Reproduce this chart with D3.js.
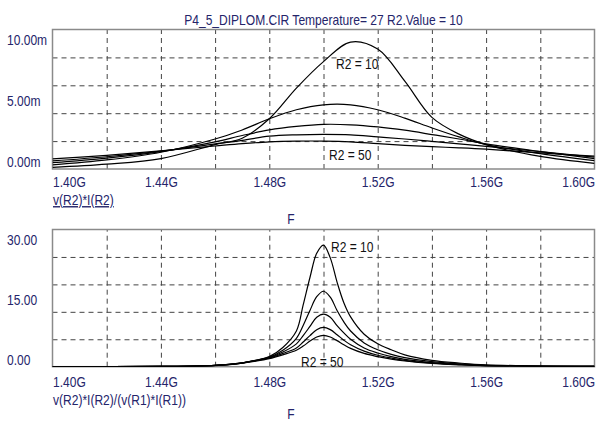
<!DOCTYPE html>
<html>
<head>
<meta charset="utf-8">
<script src="https://cdn.jsdelivr.net/npm/d3@7"></script>
<style>
  body { margin: 0; background: #fff; }
  svg text { font-family: 'Liberation Sans', Arial, sans-serif; }
</style>
</head>
<body>
<div id="chart"></div>
<script>
// frequency axis (GHz)
const xTicks = [1.40, 1.44, 1.48, 1.52, 1.56, 1.60]
const xGrid = [1.42, 1.44, 1.46, 1.48, 1.50, 1.52, 1.54, 1.56, 1.58]

// top plot: v(R2)*I(R2), values in m (1e-3)
const freqTop = [1.40, 1.42, 1.44, 1.46, 1.47, 1.48, 1.49, 1.50, 1.51, 1.52, 1.53, 1.54, 1.55, 1.56, 1.58, 1.60]
const topR10 = [0.12, 0.35, 0.75, 1.75, 2.2, 3.6, 5.8, 7.7, 9.1, 8.6, 6.3, 3.7, 2.5, 1.75, 0.9, 0.4]
const topR20 = [0.30, 0.65, 1.20, 2.15, 2.8, 3.6, 4.25, 4.6, 4.6, 4.25, 3.65, 2.95, 2.3, 1.75, 1.1, 0.6]
const topR30 = [0.45, 0.78, 1.25, 1.95, 2.4, 2.8, 3.05, 3.2, 3.17, 3.02, 2.78, 2.47, 2.15, 1.8, 1.25, 0.75]
const topR40 = [0.58, 0.88, 1.28, 1.8, 2.05, 2.35, 2.45, 2.48, 2.45, 2.3, 2.15, 1.98, 1.8, 1.62, 1.25, 0.85]
const topR50 = [0.72, 0.98, 1.30, 1.65, 1.82, 1.95, 2.0, 2.0, 1.95, 1.82, 1.7, 1.6, 1.52, 1.42, 1.15, 0.92]
const topTicks = [0, 5, 10]

// bottom plot: v(R2)*I(R2)/(v(R1)*I(R1))
const freqBot = [1.40, 1.44, 1.46, 1.47, 1.475, 1.48, 1.485, 1.49, 1.4925, 1.495, 1.4975, 1.50, 1.5025, 1.505, 1.5075, 1.51, 1.515, 1.52, 1.525, 1.53, 1.54, 1.55, 1.56, 1.60]
const botR10 = [0, 0.05, 0.25, 0.8, 1.4, 2.2, 4.2, 7.8, 13.5, 19.5, 24.8, 26.6, 23.8, 18.5, 14.0, 10.9, 7.1, 5.0, 3.7, 2.6, 1.4, 0.8, 0.4, 0.05]
const botR20 = [0, 0.05, 0.3, 0.85, 1.4, 2.1, 3.6, 6.2, 9.0, 12.3, 15.3, 16.5, 15.2, 12.3, 9.8, 7.8, 5.2, 3.7, 2.7, 2.0, 1.1, 0.6, 0.3, 0.05]
const botR30 = [0, 0.05, 0.3, 0.85, 1.35, 2.0, 3.2, 5.0, 6.8, 8.8, 10.8, 11.5, 10.8, 9.0, 7.4, 6.0, 4.1, 3.0, 2.2, 1.6, 0.9, 0.5, 0.25, 0.05]
const botR40 = [0, 0.05, 0.3, 0.8, 1.3, 1.9, 2.9, 4.1, 5.4, 6.8, 8.1, 8.6, 8.1, 7.0, 5.8, 4.8, 3.4, 2.5, 1.9, 1.4, 0.8, 0.45, 0.22, 0.05]
const botR50 = [0, 0.05, 0.3, 0.8, 1.2, 1.75, 2.6, 3.6, 4.5, 5.6, 6.5, 6.85, 6.5, 5.7, 4.8, 4.0, 2.9, 2.2, 1.65, 1.25, 0.7, 0.4, 0.2, 0.05]
const botTicks = [0, 15, 30]

const ink = '#24246a'
const fontSize = 14
const squeeze = 0.86

// the original font is a narrow one, so squeeze each text around its anchor
function narrow(sel) {
  sel.attr('transform', function() {
    const x = +this.getAttribute('x') || 0
    return 'translate(' + x + ',0) scale(' + squeeze + ',1) translate(' + -x + ',0)'
  })
}

const svg = d3
  .select('#chart')
  .append('svg')
  .attr('width', 596)
  .attr('height', 421)

const xPositionScale = d3.scaleLinear().domain([1.40, 1.60]).range([52.5, 594.5])

svg
  .append('text')
  .attr('x', 323.5)
  .attr('y', 25)
  .attr('text-anchor', 'middle')
  .attr('font-size', fontSize)
  .attr('fill', ink)
  .text('P4_5_DIPLOM.CIR Temperature= 27 R2.Value = 10')
  .call(narrow)

const panels = [
  {
    top: 29.5,
    bottom: 169,
    domain: [0, 10],
    ticks: topTicks,
    format: d => d.toFixed(2) + 'm',
    freq: freqTop,
    series: [topR10, topR20, topR30, topR40, topR50],
    xLabelY: 182,
    name: 'v(R2)*I(R2)',
    underline: true,
    fY: 219,
    lab10: [336, 64],
    lab50: [329, 155]
  },
  {
    top: 229.5,
    bottom: 366.7,
    domain: [0, 30],
    ticks: botTicks,
    format: d => d.toFixed(2),
    freq: freqBot,
    series: [botR10, botR20, botR30, botR40, botR50],
    xLabelY: 382,
    name: 'v(R2)*I(R2)/(v(R1)*I(R1))',
    underline: false,
    fY: 414,
    lab10: [331, 247],
    lab50: [301, 362]
  }
]

panels.forEach((p, i) => {
  const yPositionScale = d3.scaleLinear().domain(p.domain).range([p.bottom, p.top])
  const h = p.bottom - p.top
  const g = svg.append('g')

  // grid
  g.append('g')
    .attr('transform', 'translate(0,' + p.bottom + ')')
    .call(d3.axisBottom(xPositionScale).tickValues(xGrid).tickSize(-h).tickFormat(''))
    .call(a => a.select('.domain').remove())
    .selectAll('line')
    .attr('stroke', '#444')
    .attr('stroke-dasharray', '5,4')

  const step = (p.domain[1] - p.domain[0]) / 5
  g.append('g')
    .attr('transform', 'translate(52.5,0)')
    .call(d3.axisLeft(yPositionScale).tickValues([1, 2, 3, 4].map(k => k * step)).tickSize(-542).tickFormat(''))
    .call(a => a.select('.domain').remove())
    .selectAll('line')
    .attr('stroke', '#444')
    .attr('stroke-dasharray', '5,4')

  // frame
  g.append('rect')
    .attr('x', 52.5)
    .attr('y', p.top)
    .attr('width', 542)
    .attr('height', h)
    .attr('fill', 'none')
    .attr('stroke', '#8a8a8a')
    .attr('stroke-width', 1.5)

  // curves
  const clipId = 'clip' + i
  svg.append('clipPath')
    .attr('id', clipId)
    .append('rect')
    .attr('x', 52.5)
    .attr('y', p.top)
    .attr('width', 542)
    .attr('height', h)

  const line = d3.line()
    .x(d => xPositionScale(d[0]))
    .y(d => yPositionScale(d[1]))
    .curve(d3.curveCatmullRom.alpha(0.5))

  g.append('g')
    .attr('clip-path', 'url(#' + clipId + ')')
    .selectAll('path')
    .data(p.series)
    .enter()
    .append('path')
    .attr('d', s => line(s.map((v, k) => [p.freq[k], v])))
    .attr('fill', 'none')
    .attr('stroke', '#000')
    .attr('stroke-width', 1.2)

  // y labels, nudged inside the frame like the original
  const yAxis = g.append('g')
    .attr('transform', 'translate(7,0)')
    .call(d3.axisRight(yPositionScale).tickValues(p.ticks).tickSize(0).tickPadding(0).tickFormat(p.format))
  yAxis.select('.domain').remove()
  yAxis.selectAll('text')
    .attr('font-size', fontSize)
    .attr('fill', ink)
    .attr('dy', (d, k) => [-7.5, 1.5, 10][k] + 5)
    .call(narrow)

  // x labels
  const xAxis = g.append('g')
    .attr('transform', 'translate(0,' + (p.xLabelY - 5) + ')')
    .call(d3.axisBottom(xPositionScale).tickValues(xTicks).tickSize(0).tickPadding(0).tickFormat(d => d.toFixed(2) + 'G'))
  xAxis.select('.domain').remove()
  xAxis.selectAll('text')
    .attr('font-size', fontSize)
    .attr('fill', ink)
    .attr('dy', '0.71em')
    .attr('text-anchor', (d, k) => k === 0 ? 'start' : k === xTicks.length - 1 ? 'end' : 'middle')
    .call(narrow)

  g.append('text')
    .attr('x', 53)
    .attr('y', p.xLabelY + 23)
    .attr('font-size', fontSize)
    .attr('fill', ink)
    .attr('text-decoration', p.underline ? 'underline' : null)
    .text(p.name)
    .call(narrow)

  g.append('text')
    .attr('x', 291)
    .attr('y', p.fY + 5)
    .attr('text-anchor', 'middle')
    .attr('font-size', fontSize)
    .attr('fill', ink)
    .text('F')
    .call(narrow)

  g.append('text')
    .attr('x', p.lab10[0])
    .attr('y', p.lab10[1] + 5)
    .attr('font-size', fontSize)
    .attr('fill', '#111')
    .text('R2 = 10')
    .call(narrow)

  g.append('text')
    .attr('x', p.lab50[0])
    .attr('y', p.lab50[1] + 5)
    .attr('font-size', fontSize)
    .attr('fill', '#111')
    .text('R2 = 50')
    .call(narrow)
})
</script>
</body>
</html>
